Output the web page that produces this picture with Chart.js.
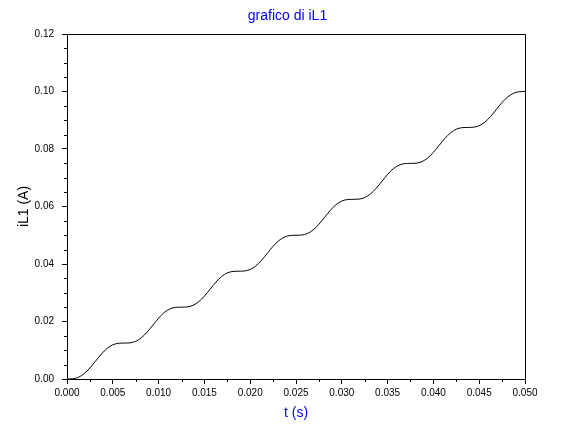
<!DOCTYPE html>
<html>
<head>
<meta charset="utf-8">
<title>grafico di iL1</title>
<script src="https://cdn.jsdelivr.net/npm/chart.js@4.4.0/dist/chart.umd.min.js"></script>
<style>
    body { margin: 0; background: #fff; }
    canvas { display: block; }
</style>
</head>
<body>
<canvas id="ilChart" width="575" height="432"></canvas>
<script>
// Time samples (s) and inductor current iL1 (A)
const times = [
    0, 0.000625, 0.00125, 0.001875, 0.0025, 0.003125, 0.00375, 0.004375, 0.005, 0.005625,
    0.00625, 0.006875, 0.0075, 0.008125, 0.00875, 0.009375, 0.01, 0.010625, 0.01125, 0.011875,
    0.0125, 0.013125, 0.01375, 0.014375, 0.015, 0.015625, 0.01625, 0.016875, 0.0175, 0.018125,
    0.01875, 0.019375, 0.02, 0.020625, 0.02125, 0.021875, 0.0225, 0.023125, 0.02375, 0.024375,
    0.025, 0.025625, 0.02625, 0.026875, 0.0275, 0.028125, 0.02875, 0.029375, 0.03, 0.030625,
    0.03125, 0.031875, 0.0325, 0.033125, 0.03375, 0.034375, 0.035, 0.035625, 0.03625, 0.036875,
    0.0375, 0.038125, 0.03875, 0.039375, 0.04, 0.040625, 0.04125, 0.041875, 0.0425, 0.043125,
    0.04375, 0.044375, 0.045, 0.045625, 0.04625, 0.046875, 0.0475, 0.048125, 0.04875, 0.049375,
    0.05
];
const currents = [
    0, 0.00008, 0.00061, 0.00186, 0.00383, 0.00625, 0.00867, 0.01064, 0.01189, 0.01242,
    0.0125, 0.01258, 0.01311, 0.01436, 0.01633, 0.01875, 0.02117, 0.02314, 0.02439, 0.02492,
    0.025, 0.02508, 0.02561, 0.02686, 0.02883, 0.03125, 0.03367, 0.03564, 0.03689, 0.03742,
    0.0375, 0.03758, 0.03811, 0.03936, 0.04133, 0.04375, 0.04617, 0.04814, 0.04939, 0.04992,
    0.05, 0.05008, 0.05061, 0.05186, 0.05383, 0.05625, 0.05867, 0.06064, 0.06189, 0.06242,
    0.0625, 0.06258, 0.06311, 0.06436, 0.06633, 0.06875, 0.07117, 0.07314, 0.07439, 0.07492,
    0.075, 0.07508, 0.07561, 0.07686, 0.07883, 0.08125, 0.08367, 0.08564, 0.08689, 0.08742,
    0.0875, 0.08758, 0.08811, 0.08936, 0.09133, 0.09375, 0.09617, 0.09814, 0.09939, 0.09992,
    0.1
];

// Tick positions
const xTicks = [0, 0.005, 0.01, 0.015, 0.02, 0.025, 0.03, 0.035, 0.04, 0.045, 0.05];
const xMinor = [0.0025, 0.0075, 0.0125, 0.0175, 0.0225, 0.0275, 0.0325, 0.0375, 0.0425, 0.0475];
const yTicks = [0, 0.02, 0.04, 0.06, 0.08, 0.1, 0.12];
const yMinor = [0.005, 0.01, 0.015, 0.025, 0.03, 0.035, 0.045, 0.05, 0.055,
                0.065, 0.07, 0.075, 0.085, 0.09, 0.095, 0.105, 0.11, 0.115];

const chartTitle = 'grafico di iL1';
const xLabel = 't (s)';
const yLabel = 'iL1 (A)';

const FONT = '"Liberation Sans", Arial, Helvetica, sans-serif';
const BLUE = '#0000ff';

Chart.defaults.font.family = FONT;
Chart.defaults.color = '#000';

// Box on top/right, minor ticks and the blue title
const scilabFrame = {
    id: 'scilabFrame',
    afterDraw(chart) {
        const { ctx, chartArea: a, scales } = chart;
        ctx.save();
        ctx.strokeStyle = '#000';
        ctx.lineWidth = 1;
        ctx.beginPath();
        ctx.moveTo(a.left, a.top + 0.5);
        ctx.lineTo(a.right + 0.5, a.top + 0.5);
        ctx.lineTo(a.right + 0.5, a.bottom + 0.5);
        // minor ticks
        xMinor.forEach(v => {
            const px = Math.round(scales.x.getPixelForValue(v)) + 0.5;
            ctx.moveTo(px, a.bottom);
            ctx.lineTo(px, a.bottom + 3);
        });
        yMinor.forEach(v => {
            const py = Math.round(scales.y.getPixelForValue(v)) + 0.5;
            ctx.moveTo(a.left - 3, py);
            ctx.lineTo(a.left + 1, py);
        });
        ctx.stroke();

        ctx.fillStyle = BLUE;
        ctx.font = '14px ' + FONT;
        ctx.textAlign = 'center';
        ctx.textBaseline = 'alphabetic';
        ctx.fillText(chartTitle, 287.5, 20);
        ctx.restore();
    }
};

new Chart(document.getElementById('ilChart'), {
    type: 'line',
    data: {
        datasets: [{
            label: yLabel,
            data: times.map((t, i) => ({ x: t, y: currents[i] })),
            borderColor: '#000',
            borderWidth: 1,
            pointRadius: 0,
            fill: false,
            cubicInterpolationMode: 'monotone'
        }]
    },
    options: {
        responsive: false,
        animation: false,
        layout: { padding: { top: 34, right: 50, left: 0, bottom: 0 } },
        plugins: {
            legend: { display: false },
            tooltip: { enabled: false },
            title: { display: false }
        },
        scales: {
            x: {
                type: 'linear',
                min: 0,
                max: 0.05,
                afterBuildTicks: s => { s.ticks = xTicks.map(v => ({ value: v })); },
                afterFit: s => { s.height = 53; },
                ticks: {
                    font: { size: 10 },
                    color: '#000',
                    padding: 3,
                    maxRotation: 0,
                    callback: v => v.toFixed(3)
                },
                grid: { drawOnChartArea: false, drawTicks: true, tickLength: 5, color: '#000' },
                border: { display: true, color: '#000', width: 1 },
                title: {
                    display: true,
                    text: xLabel,
                    color: BLUE,
                    font: { size: 14 },
                    padding: { top: 0, bottom: 10.6 }
                }
            },
            y: {
                type: 'linear',
                min: 0,
                max: 0.12,
                afterBuildTicks: s => { s.ticks = yTicks.map(v => ({ value: v })); },
                afterFit: s => { s.width = 67; },
                ticks: {
                    font: { size: 10 },
                    color: '#000',
                    padding: 8,
                    callback: v => v.toFixed(2)
                },
                grid: { drawOnChartArea: false, drawTicks: true, tickLength: 5, color: '#000' },
                border: { display: true, color: '#000', width: 1 },
                title: {
                    display: true,
                    text: yLabel,
                    color: '#000',
                    font: { size: 14 },
                    padding: { top: 15.6, bottom: 0 }
                }
            }
        }
    },
    plugins: [scilabFrame]
});
</script>
</body>
</html>
